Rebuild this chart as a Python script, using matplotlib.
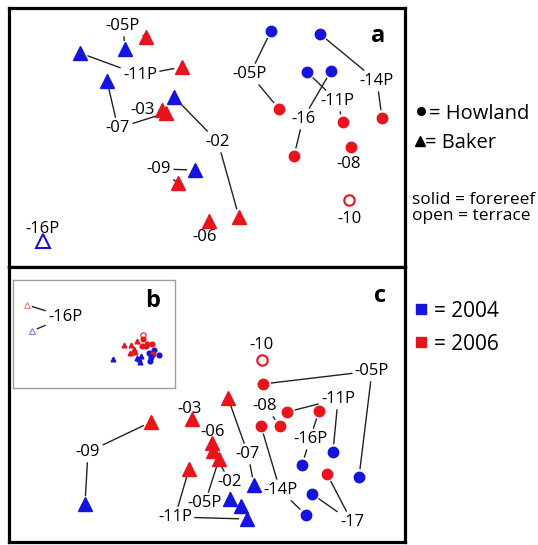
import matplotlib.pyplot as plt
from matplotlib.lines import Line2D

plt.rcParams['font.family'] = ['Open Sans', 'DejaVu Sans']

# colours / symbols
BLUE = "#1414dc"
RED = "#e8141c"
year_colour = {2004: BLUE, 2006: RED}
island_marker = {"Howland": "o", "Baker": "^"}

# ---- panel a: MDS scores (arbitrary units) ----
a_island = ["Baker"] * 13 + ["Howland"] * 10
a_site = ["05P", "05P", "11P", "11P", "07", "07", "03", "02", "02", "09", "09", "06", "16P",
          "05P", "05P", "14P", "14P", "11P", "11P", "16", "16", "08", "10"]
a_year = [2004, 2006, 2004, 2006, 2004, 2006, 2006, 2004, 2006, 2004, 2006, 2006, 2004,
          2004, 2006, 2004, 2006, 2004, 2006, 2004, 2006, 2006, 2006]
a_terrace = [0] * 12 + [1] + [0] * 9 + [1]
a_x = [-0.82, -0.61, -1.27, -0.25, -1.00, -0.41, -0.45, -0.33, 0.32, -0.12, -0.29, 0.02, -1.64,
       0.64, 0.72, 1.13, 1.75, 1.00, 1.36, 1.24, 0.87, 1.44, 1.42]
a_y = [0.885, 1.005, 0.845, 0.705, 0.565, 0.245, 0.275, 0.405, -0.795, -0.325, -0.455, -0.835, -1.035,
       1.065, 0.285, 1.035, 0.195, 0.655, 0.155, 0.665, -0.185, -0.095, -0.625]

a_lab_island = ["Baker"] * 8 + ["Howland"] * 6
a_lab_site = ["05P", "11P", "03", "07", "02", "09", "06", "16P", "05P", "14P", "11P", "16", "08", "10"]
a_lab_x = [-0.84, -0.67, -0.64, -0.89, 0.11, -0.48, -0.02, -1.64, 0.43, 1.70, 1.30, 0.96, 1.42, 1.43]
a_lab_y = [1.135, 0.645, 0.295, 0.115, -0.025, -0.295, -0.975, -0.895, 0.655, 0.585, 0.385, 0.205,
           -0.245, -0.795]
a_lab_line = [1, 1, 0, 1, 1, 1, 0, 0, 1, 1, 1, 1, 0, 0]

# ---- panels b/c: MDS scores (b shows the 16P outlier, c zooms on the main cluster) ----
c_island = ["Baker"] * 12 + ["Howland"] * 12 + ["Baker"] * 2
c_site = ["09", "09", "03", "07", "07", "06", "02", "02", "05P", "05P", "11P", "11P",
          "10", "05P", "05P", "08", "11P", "11P", "16P", "16P", "14P", "14P", "17", "17",
          "16P", "16P"]
c_year = [2006, 2004, 2006, 2006, 2004, 2006, 2006, 2004, 2006, 2004, 2006, 2004,
          2006, 2006, 2004, 2006, 2006, 2004, 2006, 2004, 2006, 2004, 2006, 2004,
          2006, 2004]
c_terrace = [0] * 12 + [1] + [0] * 11 + [1, 1]
c_x = [-0.56, -1.22, -0.15, 0.21, 0.47, 0.05, 0.06, 0.23, 0.12, 0.34, -0.18, 0.40,
       0.55, 0.56, 1.52, 0.73, 0.80, 1.26, 1.12, 0.95, 0.54, 0.99, 1.20, 1.05,
       -6.37, -6.07]
c_y = [-0.175, -0.995, -0.145, 0.065, -0.805, -0.385, -0.465, -0.945, -0.545, -1.015, -0.645, -1.145,
       0.445, 0.205, -0.725, -0.215, -0.075, -0.475, -0.065, -0.605, -0.215, -1.105, -0.695, -0.895,
       2.245, 0.685]

c_lab_island = ["Baker"] * 7 + ["Howland"] * 7
c_lab_site = ["09", "03", "06", "07", "02", "05P", "11P", "10", "05P", "08", "11P", "16P", "14P", "17"]
c_lab_x = [-1.19, -0.17, 0.06, 0.41, 0.23, -0.02, -0.32, 0.55, 1.65, 0.58, 1.31, 1.03, 0.73, 1.45]
c_lab_y = [-0.455, -0.025, -0.255, -0.475, -0.755, -0.965, -1.105, 0.615, 0.355, 0.005, 0.075,
           -0.325, -0.835, -1.155]
c_lab_line = [1, 0, 0, 1, 1, 1, 1, 0, 1, 1, 1, 1, 1, 1]

b_lab_island = ["Baker"]
b_lab_site = ["16P"]
b_lab_x = [-4.09]
b_lab_y = [1.645]
b_lab_line = [1]

LABEL_FS = 12


def draw_points(ax, island, year, terrace, xs, ys, ms_tri, ms_circ):
    for i in range(len(xs)):
        col = year_colour[year[i]]
        m = island_marker[island[i]]
        ms = ms_tri if m == "^" else ms_circ
        if terrace[i]:
            ax.plot(xs[i], ys[i], marker=m, ms=ms, mfc="white", mec=col, mew=1.5, ls="none", zorder=3)
        else:
            ax.plot(xs[i], ys[i], marker=m, ms=ms, mfc=col, mec=col, ls="none", zorder=3)


def draw_labels(ax, lisl, lsite, lx, ly, lline, island, site, xs, ys, fs=LABEL_FS, shrink=6):
    for j in range(len(lx)):
        text = "-" + lsite[j]
        ax.text(lx[j], ly[j], text, fontsize=fs, ha="center", va="center_baseline", zorder=4)
        if not lline[j]:
            continue
        for i in range(len(xs)):
            if island[i] == lisl[j] and site[i] == lsite[j]:
                # invisible copy of the label so the connector stops at the text box
                ax.annotate(text, xy=(xs[i], ys[i]), xytext=(lx[j], ly[j]), fontsize=fs,
                            ha="center", va="center_baseline", color="none", zorder=2,
                            arrowprops=dict(arrowstyle="-", color="#222222", lw=1.0,
                                            shrinkA=0, shrinkB=shrink))


def frame(ax, lw=2.3, col="black"):
    ax.set_xticks([])
    ax.set_yticks([])
    for s in ax.spines.values():
        s.set_linewidth(lw)
        s.set_color(col)


fig = plt.figure(figsize=(5.38, 5.45), dpi=100)

# panel a
ax_a = fig.add_axes([9 / 538, 278 / 545, 396 / 538, 259 / 545])
ax_a.set_xlim(-1.98, 1.98)
ax_a.set_ylim(-1.295, 1.295)
frame(ax_a)
draw_points(ax_a, a_island, a_year, a_terrace, a_x, a_y, 9.5, 7.5)
draw_labels(ax_a, a_lab_island, a_lab_site, a_lab_x, a_lab_y, a_lab_line, a_island, a_site, a_x, a_y)
ax_a.text(0.932, 0.905, "a", transform=ax_a.transAxes, fontsize=17, fontweight="bold",
          ha="center", va="center_baseline")

# panel c
ax_c = fig.add_axes([9 / 538, 3 / 545, 396 / 538, 275 / 545])
ax_c.set_xlim(-1.98, 1.98)
ax_c.set_ylim(-1.375, 1.375)
frame(ax_c)
draw_points(ax_c, c_island, c_year, c_terrace, c_x, c_y, 9.5, 7.5)
draw_labels(ax_c, c_lab_island, c_lab_site, c_lab_x, c_lab_y, c_lab_line, c_island, c_site, c_x, c_y)
ax_c.text(0.937, 0.905, "c", transform=ax_c.transAxes, fontsize=17, fontweight="bold",
          ha="center", va="center_baseline")

# inset b
ax_b = fig.add_axes([13 / 538, 157 / 545, 162 / 538, 108 / 545])
ax_b.set_zorder(5)
ax_b.set_xlim(-7.21, 2.49)
ax_b.set_ylim(-2.725, 3.735)
frame(ax_b, lw=1.0, col="#a0a0a0")
for i in range(len(c_x)):
    col = year_colour[c_year[i]]
    m = island_marker[c_island[i]]
    if c_terrace[i]:
        a = 0.55 if c_site[i] == "16P" else 1.0
        ax_b.plot(c_x[i], c_y[i], marker=m, ms=3.8, mfc="white", mec=col, mew=0.8, alpha=a, ls="none", zorder=3)
    else:
        ax_b.plot(c_x[i], c_y[i], marker=m, ms=3.4, mfc=col, mec=col, ls="none", zorder=3)
draw_labels(ax_b, b_lab_island, b_lab_site, b_lab_x, b_lab_y, b_lab_line, c_island, c_site, c_x, c_y,
            shrink=4)
ax_b.text(0.86, 0.83, "b", transform=ax_b.transAxes, fontsize=17, fontweight="bold",
          ha="center", va="center_baseline")


# right-hand key
def fx(px):
    return px / 538


def fy(py):
    return 1 - py / 545


def key_marker(px, py, marker, colour, ms):
    fig.add_artist(Line2D([fx(px)], [fy(py)], marker=marker, ms=ms, color=colour,
                          ls="none", transform=fig.transFigure))


key_marker(421, 111, "o", "black", 5.5)
fig.text(fx(429), fy(111), "= Howland", fontsize=14.5, ha="left", va="center_baseline")
key_marker(420, 141, "^", "black", 6.5)
fig.text(fx(425), fy(141), "= Baker", fontsize=14.5, ha="left", va="center_baseline")
fig.text(fx(412), fy(198), "solid = forereef", fontsize=12.5, ha="left", va="center_baseline")
fig.text(fx(412), fy(214), "open = terrace", fontsize=12.5, ha="left", va="center_baseline")
key_marker(421, 309, "s", BLUE, 6.5)
fig.text(fx(434), fy(309), "= 2004", fontsize=15, ha="left", va="center_baseline")
key_marker(421, 342, "s", RED, 6.5)
fig.text(fx(434), fy(342), "= 2006", fontsize=15, ha="left", va="center_baseline")

# draw once first so the inset connectors get laid out
fig.canvas.draw()
fig.savefig("out.png", dpi=100)
